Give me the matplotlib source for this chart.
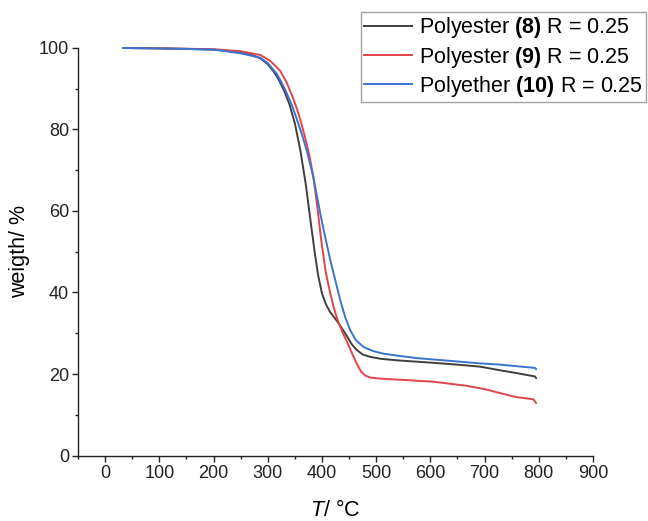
import matplotlib
matplotlib.use("Agg")
import matplotlib.pyplot as plt
from matplotlib.ticker import MultipleLocator

plt.rcParams["font.family"] = ["Liberation Sans", "DejaVu Sans"]
plt.rcParams["mathtext.fontset"] = "custom"
plt.rcParams["mathtext.rm"] = "Liberation Sans"
plt.rcParams["mathtext.it"] = "Liberation Sans:italic"
plt.rcParams["mathtext.bf"] = "Liberation Sans:bold"

# TGA traces: temperature (°C) and remaining weight (%)
t_8 = [34, 100, 150, 200, 230, 250, 270, 286, 300, 310, 320, 330, 340, 350,
       360, 370, 380, 387, 393, 400, 407, 415, 425, 435, 446, 455, 464, 475,
       489, 510, 544, 600, 650, 692, 729, 760, 793, 795]
w_8 = [100.0, 99.9, 99.8, 99.6, 99.3, 98.8, 98.3, 97.5, 96.0, 94.4, 92.3,
       89.6, 86.2, 81.5, 75.0, 66.7, 56.5, 49.5, 44.2, 39.8, 37.2, 35.2, 33.5,
       31.6, 29.3, 27.3, 25.9, 24.8, 24.2, 23.7, 23.3, 22.8, 22.3, 21.8, 20.9,
       20.2, 19.4, 19.0]

t_9 = [34, 100, 200, 250, 286, 305, 323, 335, 345, 354, 362, 369, 377, 384,
       391, 399, 407, 415, 422, 430, 438, 446, 455, 464, 472, 480, 490, 514,
       544, 606, 667, 700, 729, 760, 790, 795]
w_9 = [100.0, 99.9, 99.7, 99.2, 98.3, 96.8, 94.4, 91.5, 88.3, 85.0, 81.5,
       78.0, 73.5, 68.5, 61.5, 52.5, 45.0, 40.0, 36.2, 32.8, 30.2, 28.0, 25.2,
       22.6, 20.6, 19.6, 19.1, 18.8, 18.6, 18.1, 17.1, 16.3, 15.3, 14.3, 13.8,
       12.9]

t_10 = [34, 100, 200, 250, 286, 300, 317, 326, 335, 345, 354, 363, 372, 384,
        392, 399, 407, 415, 425, 434, 443, 452, 462, 477, 495, 513, 545, 575,
        630, 692, 729, 760, 793, 795]
w_10 = [100.0, 99.9, 99.6, 98.7, 97.6, 96.3, 93.6, 91.4, 88.9, 85.8, 82.4,
        78.8, 74.8, 68.4, 62.8, 58.0, 53.0, 48.2, 42.8, 38.0, 33.9, 30.8, 28.4,
        26.6, 25.6, 25.0, 24.4, 23.9, 23.3, 22.6, 22.3, 21.9, 21.5, 21.2]

labels = [r"Polyester $\mathbf{(8)}$ R = 0.25",
          r"Polyester $\mathbf{(9)}$ R = 0.25",
          r"Polyether $\mathbf{(10)}$ R = 0.25"]
colors = ["#3f3f3f", "#e0454b", "#3a74d2"]

fig = plt.figure(figsize=(6.48, 5.21), dpi=100)
ax = fig.add_axes([0.1204, 0.1257, 0.9151 - 0.1204, 0.9079 - 0.1257])

for t, w, lab, c in zip([t_8, t_9, t_10], [w_8, w_9, w_10], labels, colors):
    ax.plot(t, w, color=c, lw=1.4, label=lab, clip_on=False,
            solid_joinstyle="round")

ax.set_xlim(-50, 900)
ax.set_ylim(0, 100)
ax.xaxis.set_major_locator(MultipleLocator(100))
ax.xaxis.set_minor_locator(MultipleLocator(50))
ax.yaxis.set_major_locator(MultipleLocator(20))
ax.yaxis.set_minor_locator(MultipleLocator(10))

for side in ("top", "right"):
    ax.spines[side].set_visible(False)
for side in ("left", "bottom"):
    ax.spines[side].set_linewidth(1.0)
    ax.spines[side].set_color("#222222")

ax.tick_params(which="major", direction="out", length=4, width=1.0,
               labelsize=13, pad=2.5, colors="#222222")
ax.tick_params(which="minor", direction="out", length=2.5, width=1.0,
               colors="#222222")

ax.set_xlabel(r"$\mathit{T}$/ °C", fontsize=15.5, labelpad=13)
ax.set_ylabel("weigth/ %", fontsize=15.5, labelpad=6)

leg = ax.legend(loc="upper right", bbox_to_anchor=(646 / 648, 1 - 12 / 521),
                bbox_transform=fig.transFigure, borderaxespad=0,
                fontsize=15.5, frameon=True, fancybox=False,
                handlelength=2.2, handletextpad=0.33, borderpad=0.15,
                labelspacing=0.2)
leg.get_frame().set_edgecolor("#8a8a8a")
leg.get_frame().set_linewidth(1.0)

fig.savefig("out.png", dpi=100)
